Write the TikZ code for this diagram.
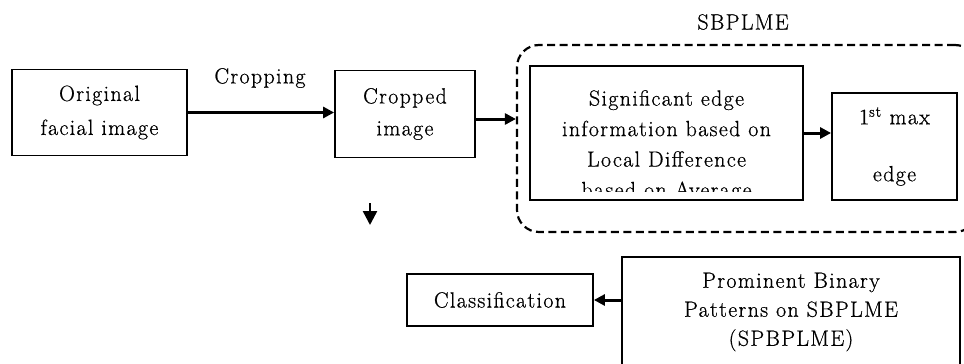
\documentclass[tikz,border=0pt]{standalone}
\usepackage{fontspec}
\setmainfont{Latin Modern Roman}[LetterSpace=6, FakeBold=0.6]
\usetikzlibrary{arrows.meta}

\tikzset{
  box/.style={draw, line width=1.8pt, inner sep=0pt, align=center,
              font=\fontsize{22}{31}\selectfont},
  lbl/.style={inner sep=0pt, font=\fontsize{22}{31}\selectfont},
  flow/.style={line width=3pt, -{Triangle[length=11pt,width=11pt]}},
  group/.style={draw, line width=2.2pt, dash pattern=on 8pt off 4.5pt,
                rounded corners=22pt, inner sep=0pt}
}

\begin{document}
\begin{tikzpicture}[x=1pt, y=-1pt]
  \clip (0,0) rectangle (964,364);
  \fill[white] (0,0) rectangle (964,364);

  % top row
  \node[box, minimum width=175pt, minimum height=86pt,
        font=\fontsize{22}{34}\selectfont] (orig) at (99.5,112.5)
       {Original\\facial image};
  \node[lbl] (croplbl) at (260,78) {Cropping};
  \node[box, minimum width=140pt, minimum height=87pt,
        font=\fontsize{22}{32}\selectfont] (crop) at (405,114)
       {Cropped\\image};

  % SBPLME group
  \node[group, minimum width=460pt, minimum height=187pt] (grp) at (747,138.5) {};
  \node[lbl] (grplbl) at (743,22) {SBPLME};

  % text overflows the box and is cut off at the bottom
  \node[box, minimum width=273pt, minimum height=134pt,
        path picture={
          \clip ([yshift=9pt]path picture bounding box.south west)
                rectangle (path picture bounding box.north east);
          \node[anchor=north, align=center, inner sep=0pt,
                font=\fontsize{22}{30.5}\selectfont]
               at ([yshift=-12pt]path picture bounding box.north)
               {Significant edge\\information based on\\Local Difference\\based on Average};
        }] (sig) at (666.5,133) {};

  \node[box, minimum width=125pt, minimum height=107pt] (max) at (894.5,146.5)
       {\raisebox{-3pt}{1\textsuperscript{st} max}\\[29pt]edge};

  % bottom row
  \node[box, minimum width=186pt, minimum height=52pt] (cls) at (500,300)
       {Classification};
  \node[box, minimum width=338pt, minimum height=110pt,
        font=\fontsize{22}{29}\selectfont] (prom) at (791,312)
       {Prominent Binary\\Patterns on SBPLME\\(SPBPLME)};

  % free arrow
  \coordinate (dtop) at (370,203);
  \coordinate (dbot) at (370,225);

  % connectors
  \draw[flow] (orig.east) -- (orig.east -| crop.west);
  \draw[flow] ([yshift=-5pt]crop.east) -- ([yshift=-5pt]crop.east -| grp.west);
  \draw[flow] (sig.east) -- (sig.east -| max.west);
  \draw[flow] (prom.west |- cls.east) -- (cls.east);
  \draw[line width=2.5pt, -{Triangle[length=14pt,width=14pt]}] (dtop) -- (dbot);
\end{tikzpicture}
\end{document}
